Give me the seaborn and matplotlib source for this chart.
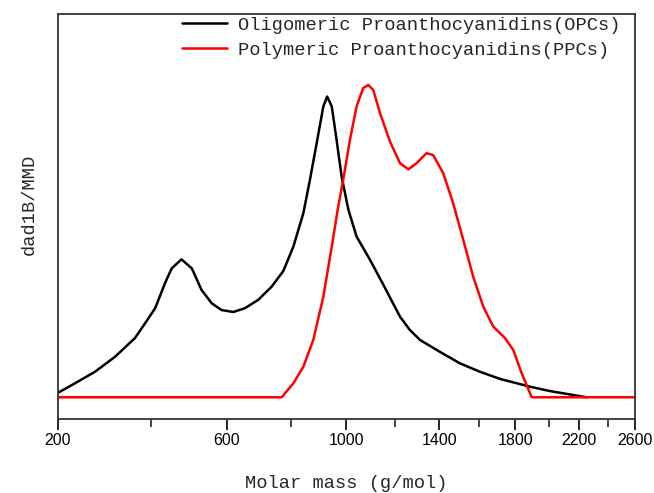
import numpy as np
import pandas as pd
import seaborn as sns
import matplotlib.pyplot as plt
from matplotlib.ticker import FixedLocator, NullLocator

# --- DATA ---
opc_mass = [200, 234, 275, 318, 363, 387, 411, 435, 452, 477, 504, 530, 558, 586,
            620, 654, 695, 737, 775, 809, 843, 866, 890, 914, 928, 945, 963, 982,
            1008, 1040, 1094, 1149, 1220, 1264, 1310, 1403, 1502, 1605, 1714,
            1887, 2009, 2250]
opc_signal = [1.4, 4.5, 8.2, 13.0, 19.0, 23.8, 28.6, 36.6, 41.4, 44.3, 41.4, 34.5,
              30.2, 28.0, 27.4, 28.6, 31.3, 35.5, 40.5, 48.4, 59.1, 69.8, 81.6,
              93.4, 96.6, 93.4, 82.7, 70.9, 60.2, 51.6, 44.1, 36.1, 25.9, 21.6,
              18.4, 14.6, 10.9, 8.2, 5.9, 3.4, 2.0, 0.0]

ppc_mass = [200, 770, 809, 843, 878, 914, 945, 969, 988, 1014, 1040, 1066, 1087,
            1107, 1135, 1177, 1220, 1257, 1294, 1340, 1371, 1419, 1468, 1519,
            1570, 1623, 1677, 1742, 1789, 1838, 1897, 2600]
ppc_signal = [0.0, 0.0, 4.5, 9.8, 18.4, 32.3, 48.4, 61.2, 69.8, 82.7, 93.4, 99.3,
              100.3, 98.7, 91.2, 82.1, 75.2, 73.2, 75.2, 78.4, 77.8, 72.0, 62.3,
              50.5, 38.7, 29.1, 22.7, 19.0, 15.2, 7.7, 0.0, 0.0]

labels = ["Oligomeric Proanthocyanidins(OPCs)", "Polymeric Proanthocyanidins(PPCs)"]
major_ticks = [200, 600, 1000, 1400, 1800, 2200, 2600]
minor_ticks = [400, 800, 1200, 1600, 2000, 2400]

df = pd.concat([
    pd.DataFrame({"mass": opc_mass, "signal": opc_signal, "sample": labels[0]}),
    pd.DataFrame({"mass": ppc_mass, "signal": ppc_signal, "sample": labels[1]}),
])

sns.set_style("ticks")
plt.rcParams['font.family'] = ['Liberation Sans', 'DejaVu Sans']

fig = plt.figure(figsize=(6.54, 4.93), dpi=100)
ax = fig.add_axes([0.0882, 0.1495, 0.8827, 0.8221])

# x axis is drawn on a log(M + 600) scale in the original
ax.set_xscale('function', functions=(lambda x: np.log(np.asarray(x) + 600.0),
                                     lambda y: np.exp(y) - 600.0))

sns.lineplot(data=df, x="mass", y="signal", hue="sample", estimator=None,
             palette={labels[0]: "black", labels[1]: "red"}, linewidth=1.8,
             ax=ax, sort=False)

ax.set_xlim(200, 2600)
ax.set_ylim(-7.07, 123.1)
ax.xaxis.set_major_locator(FixedLocator(major_ticks))
ax.xaxis.set_minor_locator(FixedLocator(minor_ticks))
ax.set_xticklabels([str(t) for t in major_ticks])
ax.yaxis.set_major_locator(NullLocator())
ax.tick_params(axis='x', which='major', direction='out', length=8, width=1.2,
               labelsize=11.5, pad=2, colors='black')
ax.tick_params(axis='x', which='minor', direction='out', length=6, width=1.2)

for s in ax.spines.values():
    s.set_visible(True)
    s.set_color('#333333')
    s.set_linewidth(1.3)

mono = {'family': 'Liberation Mono', 'size': 13.5}
ax.set_xlabel('Molar mass (g/mol)', fontdict=mono, labelpad=19)
ax.set_ylabel('dad1B/MMD', fontdict=mono)
ax.yaxis.set_label_coords(-0.035, 0.53)

ax.legend(loc='upper left', bbox_to_anchor=(0.2153, 0.994), frameon=False,
          prop={'family': 'Liberation Mono', 'size': 13.5},
          handlelength=2.4, handletextpad=0.6, labelspacing=0.42,
          borderaxespad=0, borderpad=0)

fig.savefig('out.png', dpi=100)
